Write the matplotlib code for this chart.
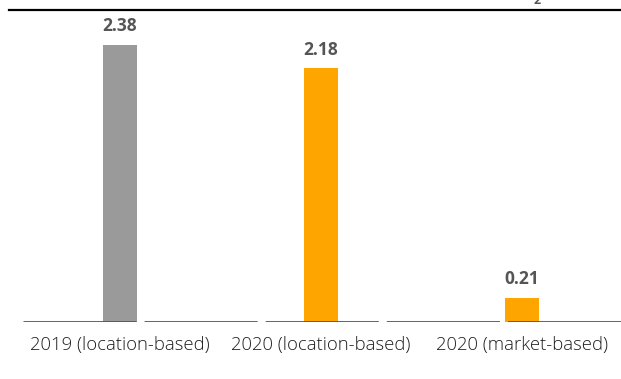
import matplotlib
matplotlib.use("Agg")
import matplotlib.pyplot as plt
from matplotlib.lines import Line2D

# Emissions by reporting basis
categories = ['2019 (location-based)', '2020 (location-based)', '2020 (market-based)']
values = [2.38, 2.18, 0.21]
colors = ['#9a9a9a', '#ffa500', '#ffa500']

plt.rcParams['lines.scale_dashes'] = False

W, H = 621, 379
fig = plt.figure(figsize=(W / 100, H / 100), dpi=100)

# axes placed in pixel terms so the baseline sits where the reference has it
left, right = 19.5, 622.5
base_y, top_y = 322, 19.4
ax = fig.add_axes([left / W, (H - base_y) / H, (right - left) / W, (base_y - top_y) / H])

x = list(range(len(categories)))
ax.bar(x, values, width=0.17, color=colors, zorder=2)
ax.set_xlim(-0.5, len(categories) - 0.5)
ax.set_ylim(0, 2.6)

for xi, v in zip(x, values):
    ax.annotate(f'{v:.2f}', (xi, v), xytext=(0, 7), textcoords='offset points',
                ha='center', va='bottom', fontsize=12.5, fontweight='bold',
                color='#555555', family='Open Sans')

# broken baseline
ax.axhline(0, xmin=0.006, xmax=1, color='#555555', linewidth=2, zorder=3,
           linestyle=(0, (81.4, 5.8)))

for s in ax.spines.values():
    s.set_visible(False)
ax.set_yticks([])
ax.set_xticks(x)
ax.set_xticklabels(categories, fontsize=13.3, color='#1e1e1e', family='Open Sans',
                   fontweight='light')
ax.tick_params(axis='x', length=0, pad=10)

# rule across the top and the clipped subscript from the title above
fig.add_artist(Line2D([9 / W, 620 / W], [1 - 10 / H, 1 - 10 / H], color='black',
                      linewidth=1.6, transform=fig.transFigure))
fig.text(537 / W, 1 - 0.5 / H, '2', ha='center', va='center', fontsize=9,
         fontweight='bold', color='#555555', family='Open Sans')

fig.savefig('out.png', dpi=100)
